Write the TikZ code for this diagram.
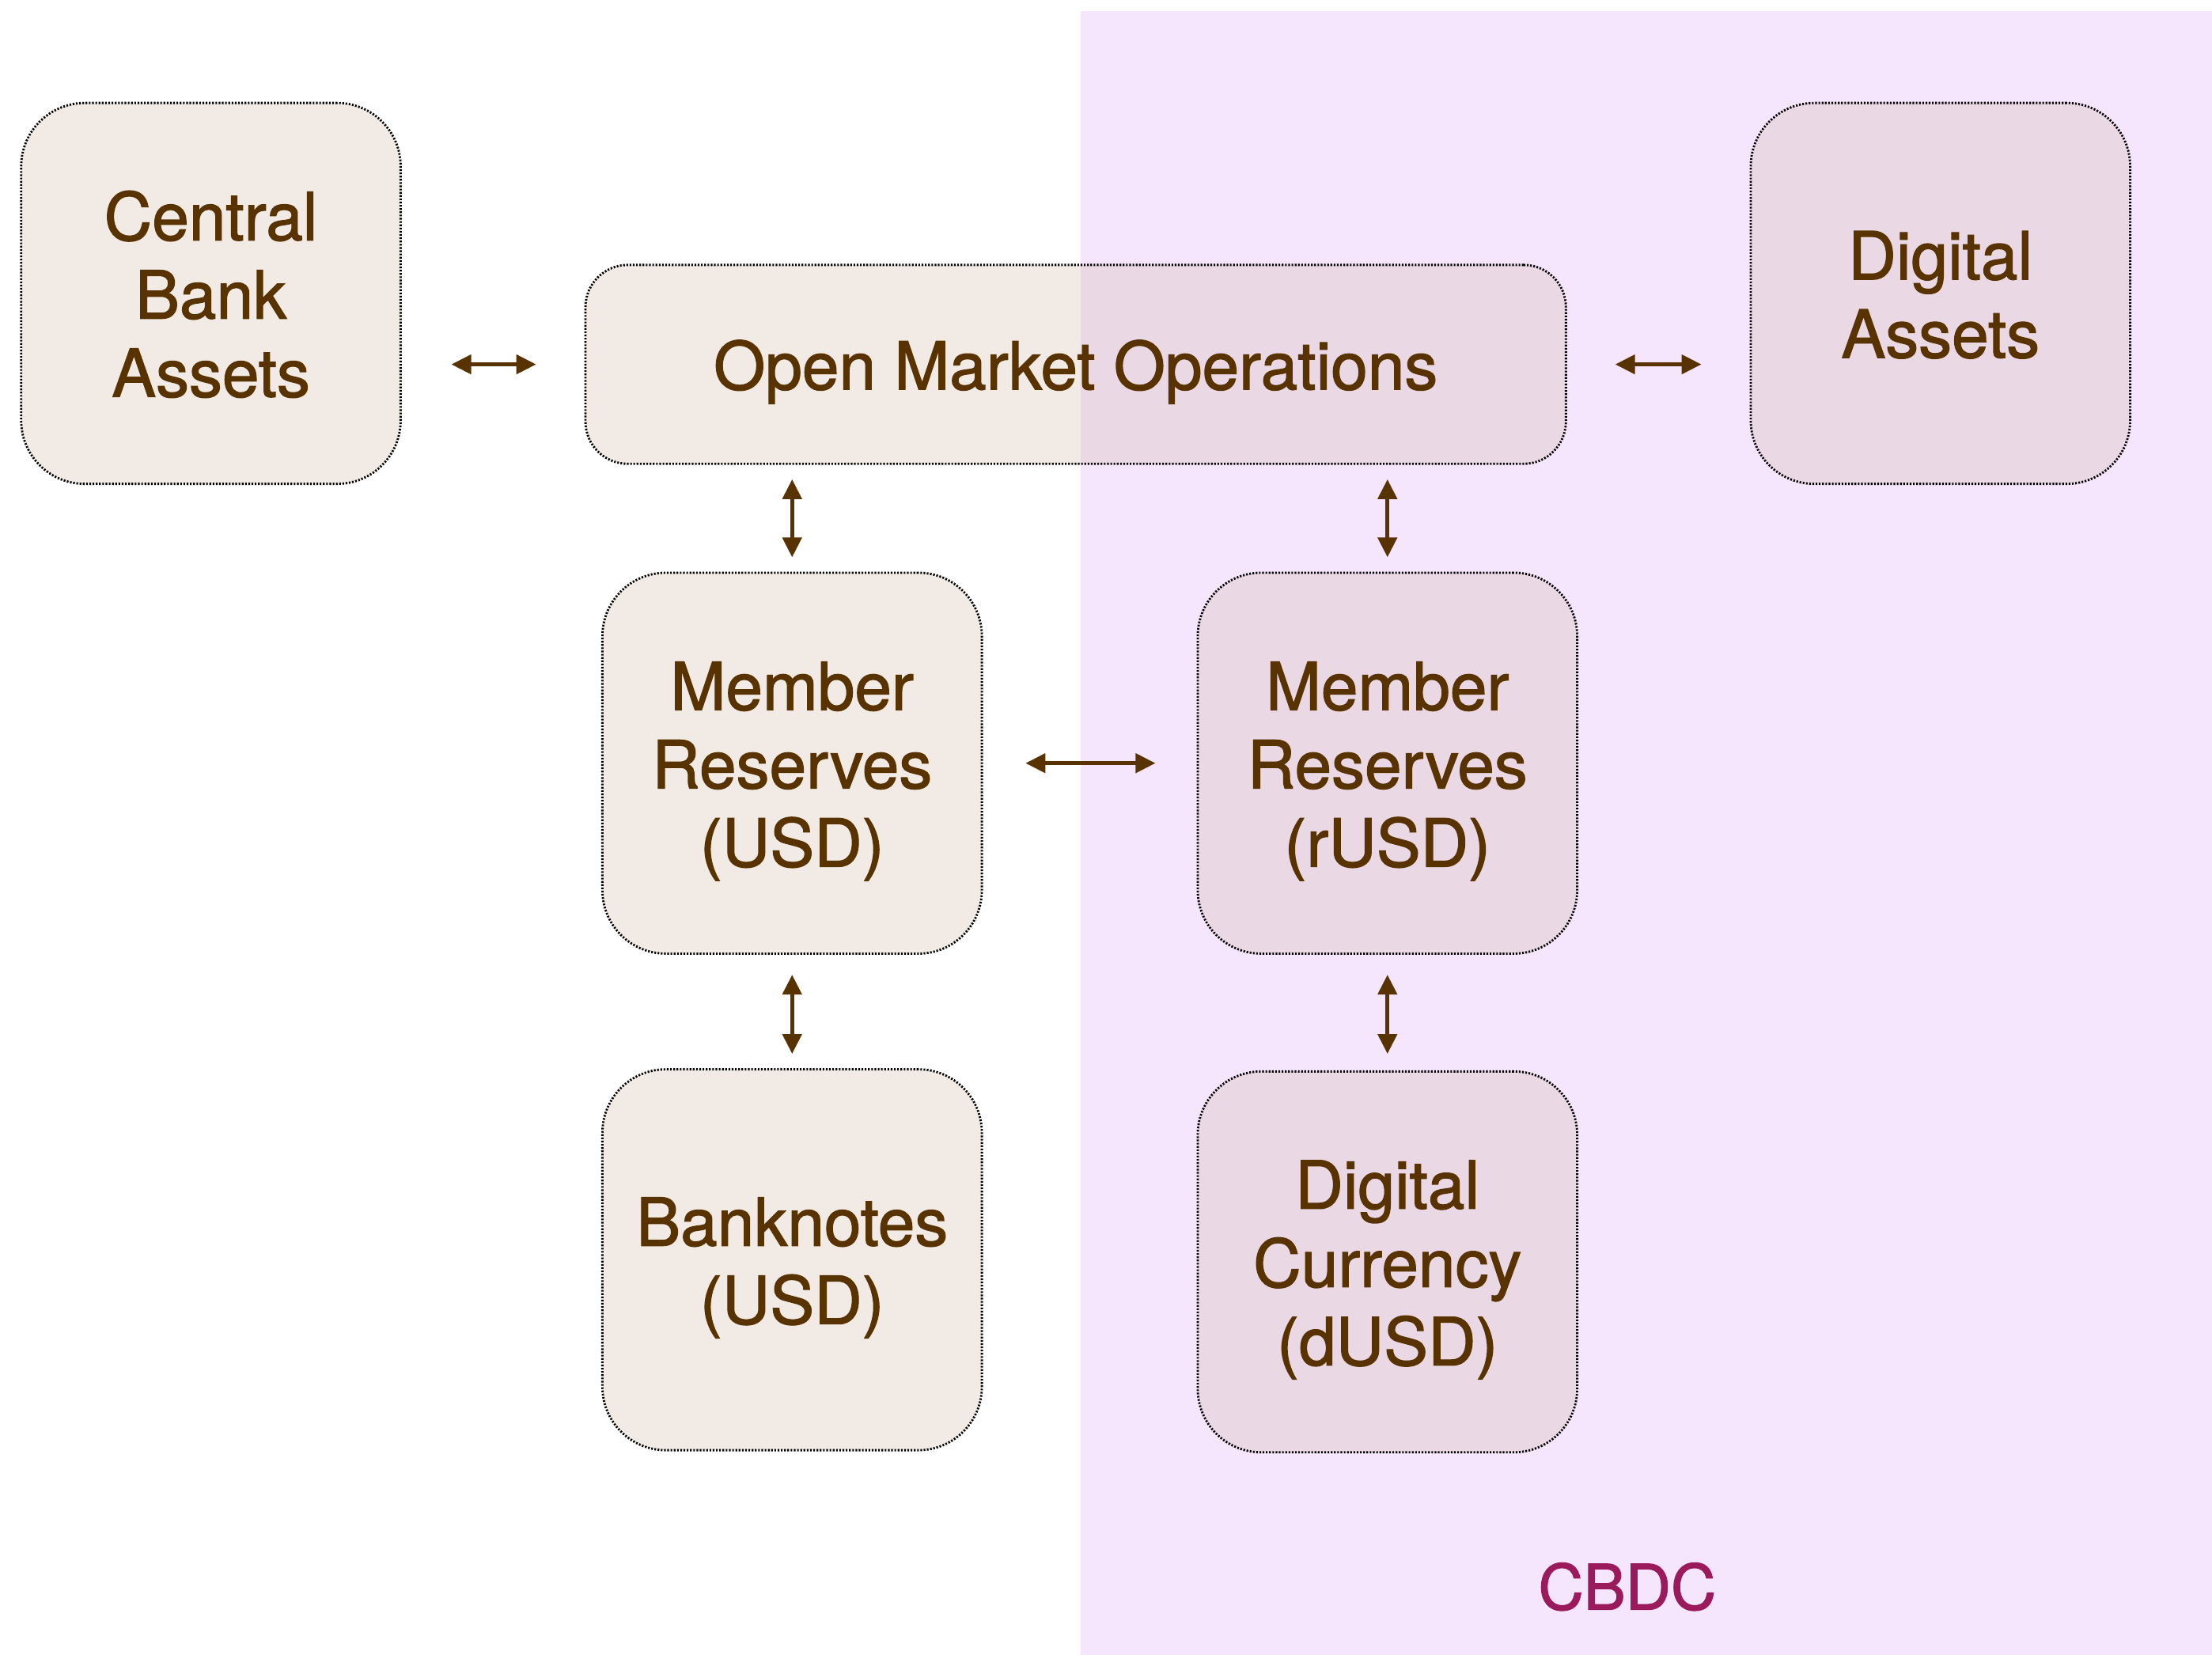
\documentclass[tikz,border=0pt]{standalone}
\usepackage{fontspec}
\setmainfont{TeX Gyre Heros}
% slightly heavier cut of the sans for all labels
\newfontfamily\labelfont{TeX Gyre Heros}[FakeBold=1.5]
\usetikzlibrary{arrows.meta,backgrounds}
\definecolor{inkbrown}{HTML}{583300}
\definecolor{boxbeige}{HTML}{F2EBE5}
\definecolor{boxpink}{HTML}{EAD8E4}
\definecolor{cbdcbg}{HTML}{F5E6FD}
\definecolor{cbdcink}{HTML}{9B1A5E}
% fixed height of the first line, so every label block sits alike in its box
\newcommand\firstline{\rule{0pt}{46pt}}
\tikzset{
  box/.style={draw=black, line width=1.6pt, dash pattern=on 1.2pt off 1.1pt,
    rounded corners=45pt, minimum width=269pt, minimum height=270pt,
    inner sep=0pt, outer sep=0pt, align=center, text=inkbrown,
    font=\labelfont\fontsize{47}{55.5}\selectfont,
    execute at end node={\rule[-10.4pt]{0pt}{10.4pt}}},
  widebox/.style={box, rounded corners=30pt, minimum width=695pt, minimum height=141pt},
  link/.style={draw=inkbrown, line width=2.6pt,
    {Triangle[length=14pt,width=13.5pt]}-{Triangle[length=14pt,width=13.5pt]}},
}
\begin{document}
\begin{tikzpicture}[x=1pt,y=-1pt]
\useasboundingbox (0,0) rectangle (1568,1173);

% boxes
\node[box]     (cba) at (149.5,208)  {\firstline Central\\Bank\\Assets};
\node[widebox] (omo) at (762.5,258.3) {\firstline Open Market Operations};
\node[box]     (da)  at (1375.5,208) {\firstline Digital\\Assets};
\node[box]     (mr)  at (561.5,541)  {\firstline Member\\Reserves\\(USD)};
\node[box]     (mrr) at (983.5,541)  {\firstline Member\\Reserves\\(rUSD)};
\node[box]     (bn)  at (561.5,893)  {\firstline Banknotes\\(USD)};
\node[box]     (dc)  at (983.5,894.5) {\firstline Digital\\Currency\\(dUSD)};

% CBDC label
\node[anchor=base, text=cbdcink, font=\labelfont\fontsize{44.5}{50}\selectfont] (cbdc) at (1153.5,1141) {CBDC};

% fills behind the boxes
\begin{scope}[on background layer]
  \coordinate (zoneNW) at (766,8);
  \coordinate (zoneSE) at (1568,1173);
  \fill[cbdcbg] (zoneNW) rectangle (zoneSE);
  \foreach \b in {cba,mr,bn}
    \fill[boxbeige, rounded corners=45pt] (\b.south west) rectangle (\b.north east);
  \fill[boxbeige, rounded corners=30pt] (omo.south west) rectangle (omo.north east);
  \foreach \b in {da,mrr,dc}
    \fill[boxpink, rounded corners=45pt] (\b.south west) rectangle (\b.north east);
  \begin{scope}
    \clip (zoneNW) rectangle (zoneSE);
    \fill[boxpink, rounded corners=30pt] (omo.south west) rectangle (omo.north east);
  \end{scope}
\end{scope}

% connectors
\draw[link, shorten <=36pt, shorten >=35pt] (cba.east |- omo.west) -- (omo.west);
\draw[link, shorten <=35pt, shorten >=35pt] (omo.east) -- (da.west |- omo.east);
\draw[link, shorten <=11pt, shorten >=11pt] (omo.south -| mr.north) -- (mr.north);
\draw[link, shorten <=11pt, shorten >=11pt] (omo.south -| mrr.north) -- (mrr.north);
\draw[link, shorten <=31pt, shorten >=30pt] (mr.east) -- (mrr.west);
\draw[link, shorten <=15pt, shorten >=11pt] (mr.south) -- (bn.north);
\draw[link, shorten <=15pt, shorten >=12.5pt] (mrr.south) -- (dc.north);
\end{tikzpicture}
\end{document}
